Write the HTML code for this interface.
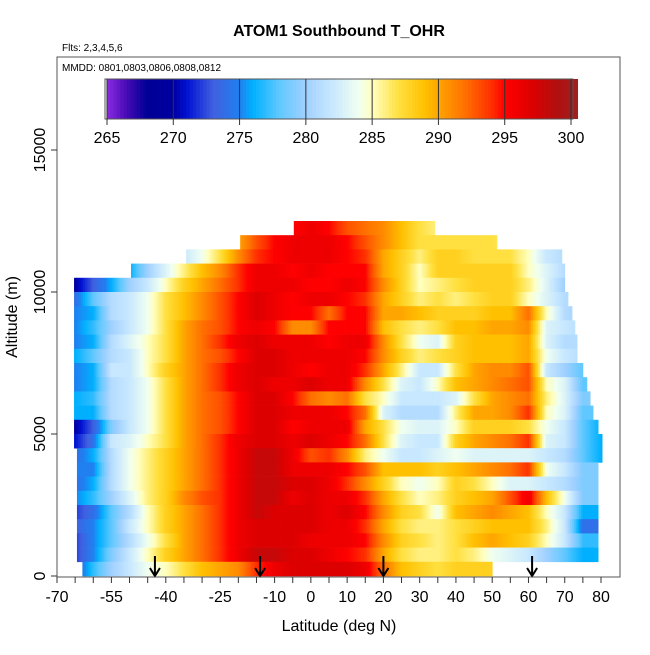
<!DOCTYPE html>
<html><head><meta charset="utf-8">
<style>
body{margin:0;background:#fff;}
svg text{font-family:"Liberation Sans",sans-serif;}
</style></head>
<body>
<svg id="chart" width="650" height="650" viewBox="0 0 650 650" xmlns="http://www.w3.org/2000/svg">
<rect width="650" height="650" fill="#fff"/>
<text x="339" y="36" text-anchor="middle" font-size="16" font-weight="bold">ATOM1 Southbound T_OHR</text>
<text x="62" y="51" font-size="10">Flts: 2,3,4,5,6</text>
<g id="heat"></g>
<g id="arrows"></g>
<rect x="57" y="57" width="563" height="520" fill="none" stroke="#555" stroke-width="1"/>
<text x="62" y="71" font-size="10">MMDD: 0801,0803,0806,0808,0812</text>
<g id="cbar"></g>
<g id="axes"></g>
<text x="339" y="631" text-anchor="middle" font-size="16">Latitude (deg N)</text>
<text transform="translate(17,317) rotate(-90)" text-anchor="middle" font-size="16">Altitude (m)</text>
</svg>
<script>
const latGrid=[-70,-65,-60,-55,-50,-45,-40,-35,-30,-25,-20,-15,-10,-5,0,5,10,15,20,25,30,35,40,45,50,55,60,65,70,75,80];
const altBottoms=[12000,11500,11000,10500,10000,9500,9000,8500,8000,7500,7000,6500,6000,5500,5000,4500,4000,3500,3000,2500,2000,1500,1000,500,0];
const rowLatMin=[-4.7,-19.5,-34.4,-49.6,-65.3,-65.3,-65.3,-65.3,-65.3,-65.3,-65.3,-65.3,-65.3,-65.3,-65.3,-65.3,-64.5,-64.5,-64.5,-64.5,-64.5,-64.5,-64.5,-64.5,-63];
const rowLatMax=[34.2,51.3,69.2,70,70,70.9,72,72.8,73.4,73.4,75,76.1,77,77.8,79.2,80.3,80.3,79.2,79.2,79.2,79.2,79.2,79.2,79.2,50];
const N=null;
const temps=[
[N,N,N,N,N,N,N,N,N,N,N,N,N,295,296,295,293,292,291,289,287,286,N,N,N,N,N,N,N,N,N],
[N,N,N,N,N,N,N,N,N,N,290,293,295,296,296,296,295,293,291,289,287,287,287,287,287,286,N,N,N,N,N],
[N,N,N,N,N,N,N,282,284,287,291,294,295,296,296,296,295,294,290,288,286,288,288,287,287,287,285,282,281,N,N],
[N,N,N,N,276,280,283,286,289,291,294,296,296,295,296,295,295,295,290,288,285,288,288,288,288,288,285,283,281,N,N],
[270,270,273,276,280,282,285,288,290,292,294,296,296,296,295,295,296,295,291,288,285,286,287,288,288,288,286,283,280,N,N],
[274,274,278,281,282,284,287,289,291,293,295,297,296,295,296,296,295,294,290,288,286,287,286,287,288,288,285,283,281,N,N],
[275,275,276,281,282,284,287,289,291,293,295,297,296,295,295,292,295,295,290,290,289,288,288,288,289,289,292,285,281,280,N],
[275,275,277,280,282,284,287,290,292,293,295,296,295,291,291,295,295,295,289,287,286,287,289,289,290,290,291,283,282,281,N],
[275,275,276,281,283,285,287,290,292,294,296,297,296,296,296,295,296,296,291,287,284,283,288,289,289,289,290,283,281,281,N],
[276,276,278,281,282,285,287,290,292,293,295,297,297,296,296,296,296,295,291,288,286,287,288,289,289,289,290,284,282,281,N],
[275,275,276,282,282,285,288,290,292,294,296,297,297,296,295,296,296,294,290,286,282,282,287,290,291,291,293,282,280,278,N],
[275,275,276,281,282,284,287,290,292,294,296,297,296,296,297,296,296,291,287,283,282,285,289,290,291,292,293,285,283,278,N],
[276,276,277,281,282,284,287,290,292,293,295,297,297,295,292,291,292,287,285,282,282,282,283,287,290,291,292,286,283,279,N],
[276,276,276,281,282,284,287,290,292,293,295,297,297,296,296,296,295,292,283,281,281,281,286,290,290,291,294,285,283,278,N],
[270,270,273,279,282,284,287,290,292,293,295,297,297,295,296,296,296,290,287,284,283,283,285,288,288,288,287,284,282,278,276],
[271,271,274,282,283,285,287,290,292,294,296,297,297,296,297,296,295,292,287,283,282,282,288,290,291,292,294,283,282,278,276],
[274,274,276,281,284,286,288,290,292,294,296,298,298,296,293,294,291,286,284,282,282,283,284,283,283,283,283,282,281,278,276],
[275,275,275,281,284,286,288,290,292,294,296,298,298,296,296,296,295,293,289,289,289,288,289,290,291,292,294,284,282,279,N],
[274,274,276,281,284,286,288,290,292,294,296,298,298,297,297,296,294,291,288,285,284,285,288,287,285,283,283,282,281,279,N],
[275,275,277,280,283,286,288,291,293,294,296,298,298,296,297,296,296,294,290,287,285,286,288,289,290,293,296,289,284,279,N],
[272,272,274,278,281,285,288,290,292,294,296,298,297,297,297,296,297,295,291,288,287,284,289,290,291,290,289,285,282,276,N],
[273,273,275,278,282,285,288,290,292,294,296,297,297,297,297,296,296,294,290,287,286,286,287,288,289,289,289,286,282,274,N],
[272,272,275,278,281,284,287,290,292,294,296,297,297,297,296,296,296,295,291,288,287,286,287,289,290,289,288,285,282,277,N],
[272,272,275,279,282,285,288,290,292,294,296,298,298,297,297,296,295,294,290,287,286,286,287,286,284,283,282,280,278,276,N],
[273,273,277,280,282,284,285,287,289,290,291,294,296,297,297,297,297,296,292,289,288,287,288,288,288,N,N,N,N,N,N]
];
const xTickVals=[-70,-65,-60,-55,-50,-45,-40,-35,-30,-25,-20,-15,-10,-5,0,5,10,15,20,25,30,35,40,45,50,55,60,65,70,75,80];
const xLabelVals=[-70,-55,-40,-25,-10,0,10,20,30,40,50,60,70,80];
const yTickVals=[0,5000,10000,15000];
const cbarTicks=[265,270,275,280,285,290,295,300];
const arrowLats=[-43,-14,20,61];

const NS="http://www.w3.org/2000/svg";
const X=lat=>57+(lat+70)*(544/150);
const Y=alt=>576-alt*(426/15000);
const C=t=>107+(t-265)*(464/35);
const stops=[[265,[138,43,226]],[266.5,[70,10,180]],[268,[0,0,150]],[270,[0,0,160]],[271,[0,16,210]],[273,[64,96,224]],[275,[32,128,240]],[276,[0,176,255]],[278,[96,200,255]],[280,[160,208,255]],[282,[200,232,255]],[284,[240,255,240]],[285,[255,255,192]],[287,[255,224,64]],[289,[255,192,0]],[290,[255,165,0]],[292,[255,112,0]],[294,[255,48,0]],[295,[255,0,0]],[297,[221,0,0]],[299,[176,16,16]],[300.5,[160,32,32]]];
function col(t){
  if(t<=stops[0][0])return `rgb(${stops[0][1]})`;
  for(let i=1;i<stops.length;i++){if(t<=stops[i][0]){const a=stops[i-1],b=stops[i],f=(t-a[0])/(b[0]-a[0]);
    return `rgb(${a[1].map((v,j)=>Math.round(v+(b[1][j]-v)*f)).join(',')})`;}}
  return `rgb(${stops[stops.length-1][1]})`;
}
function mk(tag,attrs,parent){const e=document.createElementNS(NS,tag);for(const k in attrs)e.setAttribute(k,attrs[k]);parent.appendChild(e);return e;}
function interp(row,lat){
  const pts=[];row.forEach((v,i)=>{if(v!==null)pts.push([latGrid[i],v]);});
  if(lat<=pts[0][0])return pts[0][1];
  for(let i=1;i<pts.length;i++){if(lat<=pts[i][0]){const f=(lat-pts[i-1][0])/(pts[i][0]-pts[i-1][0]);return pts[i-1][1]+(pts[i][1]-pts[i-1][1])*f;}}
  return pts[pts.length-1][1];
}
const heat=document.getElementById('heat');
altBottoms.forEach((alt,r)=>{
  const y0=Y(alt+500),y1=Y(alt);
  const step=0.5;
  for(let lat=rowLatMin[r];lat<rowLatMax[r];lat+=step){
    const l2=Math.min(lat+step,rowLatMax[r]);
    const el=mk('rect',{x:X(lat).toFixed(2),y:y0.toFixed(2),width:(X(l2)-X(lat)+0.4).toFixed(2),height:(y1-y0+0.3).toFixed(2),fill:col(interp(temps[r],(lat+l2)/2))},heat);
    
    
  }
});
const arrows=document.getElementById('arrows');
arrowLats.forEach(l=>{
  const x=X(l);
  const a=mk('path',{d:`M${x},556 L${x},576 M${x-5},568 L${x},576 L${x+5},568`,stroke:'#000','stroke-width':2,fill:'none'},arrows);
  
  
});
const cb=document.getElementById('cbar');
for(let t=265;t<300.5;t+=0.25){
  const r=mk('rect',{x:C(t).toFixed(2),y:79,width:(464/35*0.25+0.4).toFixed(2),height:40,fill:col(t+0.125)},cb);
  
  
}
mk('rect',{x:105,y:79,width:468,height:40,fill:'none',stroke:'#555'},cb);
cbarTicks.forEach(t=>{
  const l=mk('line',{x1:C(t),x2:C(t),y1:79,y2:125,stroke:'#333','stroke-width':1},cb);
  
  
  const tx=mk('text',{x:C(t),y:143,'text-anchor':'middle','font-size':16},cb);
  tx.textContent=t;
  
  
});
const ax=document.getElementById('axes');
xTickVals.forEach(v=>{
  const l=mk('line',{x1:X(v),x2:X(v),y1:577,y2:583,stroke:'#333'},ax);
  
  
});
xLabelVals.forEach(v=>{
  const t=mk('text',{x:X(v),y:602,'text-anchor':'middle','font-size':16},ax);
  t.textContent=v;
  
  
});
yTickVals.forEach(v=>{
  const l=mk('line',{x1:51,x2:57,y1:Y(v),y2:Y(v),stroke:'#333'},ax);
  
  
  const t=mk('text',{transform:`translate(45,${Y(v)}) rotate(-90)`,'text-anchor':'middle','font-size':16},ax);
  t.textContent=v;
  
  
});
</script>
</body></html>
